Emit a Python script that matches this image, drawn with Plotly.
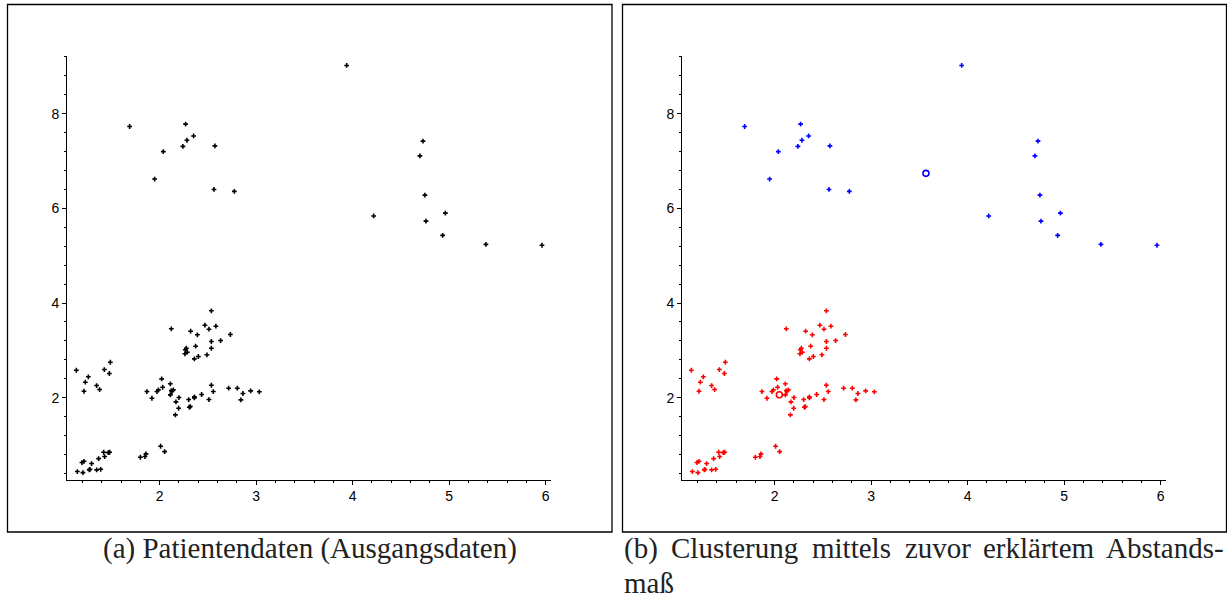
import plotly.graph_objects as go

# ---- data ----
x_upper = [3.938, 4.729, 4.697, 4.749, 4.218, 4.961, 4.760, 4.933, 5.381, 5.962,
           1.689, 2.269, 2.352, 2.283, 2.241, 2.573, 2.038, 1.948, 2.563, 2.774]
y_upper = [9.02, 7.42, 7.11, 6.28, 5.84, 5.90, 5.73, 5.43, 5.24, 5.22,
           7.73, 7.78, 7.53, 7.44, 7.31, 7.32, 7.20, 6.62, 6.40, 6.36]

x_lower = [2.536, 2.121, 2.321, 2.469, 2.511, 2.583, 2.391, 2.733, 2.632, 2.536,
           2.373, 2.536, 2.277, 2.266, 2.287, 2.262, 2.401, 2.360, 2.490,
           1.137, 1.261, 1.230, 1.216, 1.489, 1.427, 1.479, 1.347, 1.378,
           1.868, 1.920, 1.972, 1.987, 2.021, 2.031, 2.111, 2.142, 2.127, 2.111,
           2.121, 2.200, 2.169, 2.197, 2.163, 2.301, 2.318, 2.308, 2.360, 2.360,
           2.435, 2.511, 2.536, 2.556, 2.715, 2.805, 2.863, 2.842, 2.943, 3.033,
           1.147, 1.205, 1.195, 1.216, 1.295, 1.271, 1.278, 1.347, 1.389, 1.368,
           1.420, 1.430, 1.468, 1.482,
           1.800, 1.848, 1.858, 2.010, 2.052]
y_lower = [3.835, 3.455, 3.404, 3.531, 3.446, 3.510, 3.328, 3.334, 3.207, 3.186,
           3.087, 3.044, 3.044, 3.011, 2.960, 2.926, 2.869, 2.820, 2.905,
           2.579, 2.440, 2.326, 2.135, 2.748, 2.594, 2.510, 2.256, 2.171,
           2.129, 1.987, 2.129, 2.165, 2.397, 2.220, 2.292, 2.165, 2.129, 2.059,
           2.150, 2.002, 1.911, 1.776, 1.636, 1.960, 1.812, 1.797, 1.996, 2.017,
           2.066, 1.960, 2.262, 2.129, 2.199, 2.199, 2.087, 1.953, 2.144, 2.123,
           0.438, 0.416, 0.628, 0.655, 0.607, 0.474, 0.486, 0.474, 0.486, 0.712,
           0.846, 0.755, 0.839, 0.846,
           0.740, 0.755, 0.812, 0.973, 0.860]

centroid_red = ([2.049], [2.06])
centroid_blue = ([3.568], [6.74])

x_ticks = [2, 3, 4, 5, 6]
y_ticks = [2, 4, 6, 8]
x_range = [1.04, 6.06]
y_range = [0.27, 9.22]

caption_a = "(a) Patientendaten (Ausgangsdaten)"
caption_b_words = ["(b)", "Clusterung", "mittels", "zuvor", "erklärtem", "Abstands-"]
caption_b_line2 = "maß"

# ---- figure ----
W, H = 1227, 598
fig = go.Figure()

mk = dict(symbol="cross", size=4)

fig.add_trace(go.Scatter(x=x_upper + x_lower, y=y_upper + y_lower, mode="markers",
                         marker=dict(color="black", **mk), xaxis="x", yaxis="y",
                         showlegend=False))
fig.add_trace(go.Scatter(x=x_upper, y=y_upper, mode="markers",
                         marker=dict(color="#0000ff", **mk), xaxis="x2", yaxis="y2",
                         showlegend=False))
fig.add_trace(go.Scatter(x=x_lower, y=y_lower, mode="markers",
                         marker=dict(color="#ff0000", **mk), xaxis="x2", yaxis="y2",
                         showlegend=False))
fig.add_trace(go.Scatter(x=centroid_red[0], y=centroid_red[1], mode="markers",
                         marker=dict(symbol="circle-open", size=6, color="#ff0000",
                                     line=dict(width=1.6, color="#ff0000")),
                         xaxis="x2", yaxis="y2", showlegend=False))
fig.add_trace(go.Scatter(x=centroid_blue[0], y=centroid_blue[1], mode="markers",
                         marker=dict(symbol="circle-open", size=6, color="#0000ff",
                                     line=dict(width=1.6, color="#0000ff")),
                         xaxis="x2", yaxis="y2", showlegend=False))

tickfont = dict(family="Liberation Sans Narrow, Liberation Sans, Arial", size=14, color="black")

def xa(domain, anchor):
    return dict(domain=domain, range=x_range, anchor=anchor, showgrid=False, zeroline=False,
                showline=True, linecolor="black", linewidth=1, ticks="outside", ticklen=4,
                tickcolor="black", tickvals=x_ticks, ticktext=[str(v) for v in x_ticks],
                tickfont=tickfont, minor=dict(dtick=0.2, tick0=0, ticks="outside", ticklen=2.5,
                                               tickcolor="black", showgrid=False))

def ya(domain, anchor):
    return dict(domain=domain, range=y_range, anchor=anchor, showgrid=False, zeroline=False,
                showline=True, linecolor="black", linewidth=1, ticks="outside", ticklen=4,
                tickcolor="black", tickvals=y_ticks, ticktext=[str(v) for v in y_ticks],
                tickfont=tickfont, minor=dict(dtick=0.4, tick0=0, ticks="outside", ticklen=2.5,
                                               tickcolor="black", showgrid=False))

ydom = [1 - 479.5 / H, 1 - 56 / H]
x1dom = [67 / W, (67 + (x_range[1] - x_range[0]) * 96.5) / W]
x2dom = [682 / W, (682 + (x_range[1] - x_range[0]) * 96.5) / W]

fig.update_layout(
    width=W, height=H, margin=dict(l=0, r=0, t=0, b=0),
    paper_bgcolor="white", plot_bgcolor="white",
    xaxis=xa(x1dom, "y"), yaxis=ya(ydom, "x"),
    xaxis2=xa(x2dom, "y2"), yaxis2=ya(ydom, "x2"),
    shapes=[
        dict(type="rect", xref="paper", yref="paper", x0=7.5 / W, x1=612 / W,
             y0=1 - 532 / H, y1=1 - 4.5 / H, line=dict(color="black", width=1.3)),
        dict(type="rect", xref="paper", yref="paper", x0=622.5 / W, x1=1226.5 / W,
             y0=1 - 532 / H, y1=1 - 4.5 / H, line=dict(color="black", width=1.3)),
    ],
)

capfont = dict(family="Liberation Serif, Times New Roman, serif", size=29, color="#222222")
ann = [dict(text=caption_a, x=310 / W, y=1 - 548 / H, xref="paper", yref="paper",
            xanchor="center", yanchor="middle", showarrow=False, font=capfont)]
word_x = [622, 669, 810, 903, 981, 1226]
anchors = ["left", "left", "left", "left", "left", "right"]
for w, xp, an in zip(caption_b_words, word_x, anchors):
    ann.append(dict(text=w, x=xp / W, y=1 - 548 / H, xref="paper", yref="paper",
                    xanchor=an, yanchor="middle", showarrow=False, font=capfont))
ann.append(dict(text=caption_b_line2, x=622 / W, y=1 - 583 / H, xref="paper", yref="paper",
                xanchor="left", yanchor="middle", showarrow=False, font=capfont))
fig.update_layout(annotations=ann)

fig.write_html("out.html")
